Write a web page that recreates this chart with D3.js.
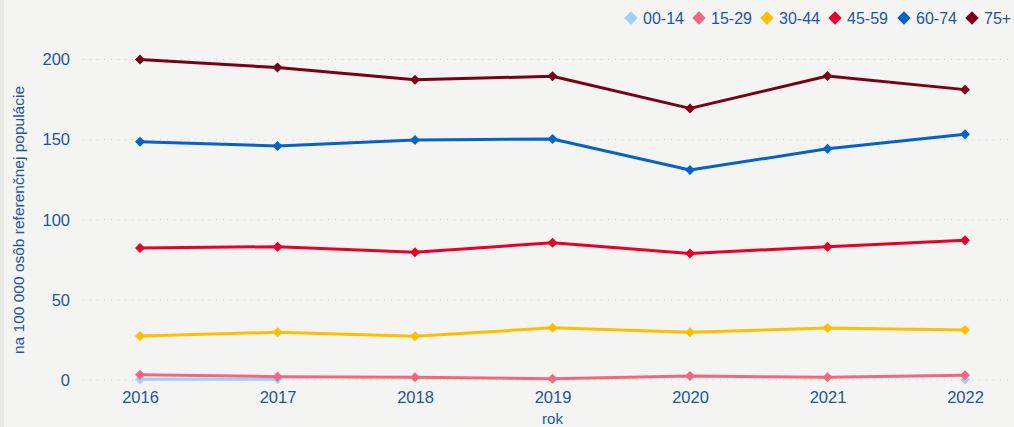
<!DOCTYPE html>
<html><head><meta charset="utf-8">
<script src="https://cdn.jsdelivr.net/npm/d3@7"></script>
<style>
html,body{margin:0;padding:0;background:#f4f4f2;}
svg{display:block;font-family:"Liberation Sans",Arial,sans-serif;}
</style></head><body>
<svg id="c" width="1014" height="427"></svg>
<script>
const years = ["2016","2017","2018","2019","2020","2021","2022"];
const seriesNames = ["00-14","15-29","30-44","45-59","60-74","75+"];
const seriesColors = ["#9fcfff","#f2677e","#ffbf00","#e6002a","#0562c8","#7a0019"];
const v0014 = [0.4, 0.4, null, null, null, null, 0.3];
const v1529 = [3.3, 2.1, 1.7, 0.8, 2.5, 1.7, 2.9];
const v3044 = [27.5, 29.8, 27.3, 32.6, 29.8, 32.4, 31.2];
const v4559 = [82.4, 83.2, 79.7, 85.7, 79.0, 83.2, 87.2];
const v6074 = [148.7, 146.0, 149.8, 150.4, 131.0, 144.3, 153.3];
const v75   = [200.0, 195.0, 187.4, 189.5, 169.5, 189.7, 181.2];
const yTicks = [0, 50, 100, 150, 200];
const yTitle = "na 100 000 osôb referenčnej populácie";
const xTitle = "rok";

const allValues = [v0014, v1529, v3044, v4559, v6074, v75];
const svg = d3.select("#c");
const textCol = "#24549a";

svg.append("rect").attr("x",0).attr("y",0).attr("width",4).attr("height",427).attr("fill","#e9e9e7");

const x = d3.scalePoint().domain(years).range([140, 965]);
const y = d3.scaleLinear().domain([0, 200]).range([380, 59.5]);

// gridlines
svg.append("g").selectAll("line").data(yTicks).join("line")
  .attr("x1", 83).attr("x2", 1012)
  .attr("y1", d => y(d)).attr("y2", d => y(d))
  .attr("stroke", "#cfcfcf").attr("stroke-width", 1)
  .attr("stroke-dasharray", "1,6");

// y axis
const yAxis = svg.append("g").attr("transform","translate(70,0)")
  .call(d3.axisLeft(y).tickValues(yTicks).tickSize(0).tickPadding(0));
yAxis.select(".domain").remove();
yAxis.selectAll("text").attr("fill", textCol).attr("font-size", "16.5px")
  .attr("font-family","Liberation Sans, Arial, sans-serif");

// x axis
const xAxis = svg.append("g").attr("transform","translate(0,391)")
  .call(d3.axisBottom(x).tickSize(0).tickPadding(0));
xAxis.select(".domain").remove();
xAxis.selectAll("text").attr("fill", textCol).attr("font-size", "16.5px")
  .attr("font-family","Liberation Sans, Arial, sans-serif");

svg.append("text").attr("x", x("2019")).attr("y", 424).attr("text-anchor","middle")
  .attr("fill", textCol).attr("font-size","15px").text(xTitle);
svg.append("text").attr("transform","translate(24,220) rotate(-90)")
  .attr("text-anchor","middle").attr("fill", textCol).attr("font-size","15.5px").text(yTitle);

// lines
const line = d3.line().defined(d => d.v !== null).x(d => x(d.yr)).y(d => y(d.v));
const sym = d3.symbol().type(d3.symbolSquare).size(50);
seriesNames.forEach((name, i) => {
  const data = years.map((yr, j) => ({yr, v: allValues[i][j]}));
  const g = svg.append("g");
  g.append("path").datum(data).attr("d", line).attr("fill","none")
    .attr("stroke", seriesColors[i]).attr("stroke-width", 3).attr("stroke-linejoin","round");
  g.selectAll("path.m").data(data.filter(d => d.v !== null)).join("path").attr("class","m")
    .attr("d", sym)
    .attr("transform", d => `translate(${x(d.yr)},${y(d.v)}) rotate(45)`)
    .attr("fill", seriesColors[i]);
});

// legend
const legendX = [631, 699, 767, 835, 904, 972];
const lg = svg.append("g");
seriesNames.forEach((name, i) => {
  lg.append("path").attr("d", d3.symbol().type(d3.symbolSquare).size(90))
    .attr("transform", `translate(${legendX[i]},18) rotate(45)`)
    .attr("fill", seriesColors[i]);
  lg.append("text").attr("x", legendX[i] + 12).attr("y", 24)
    .attr("fill", textCol).attr("font-size","16px").text(name);
});
</script>
</body></html>
